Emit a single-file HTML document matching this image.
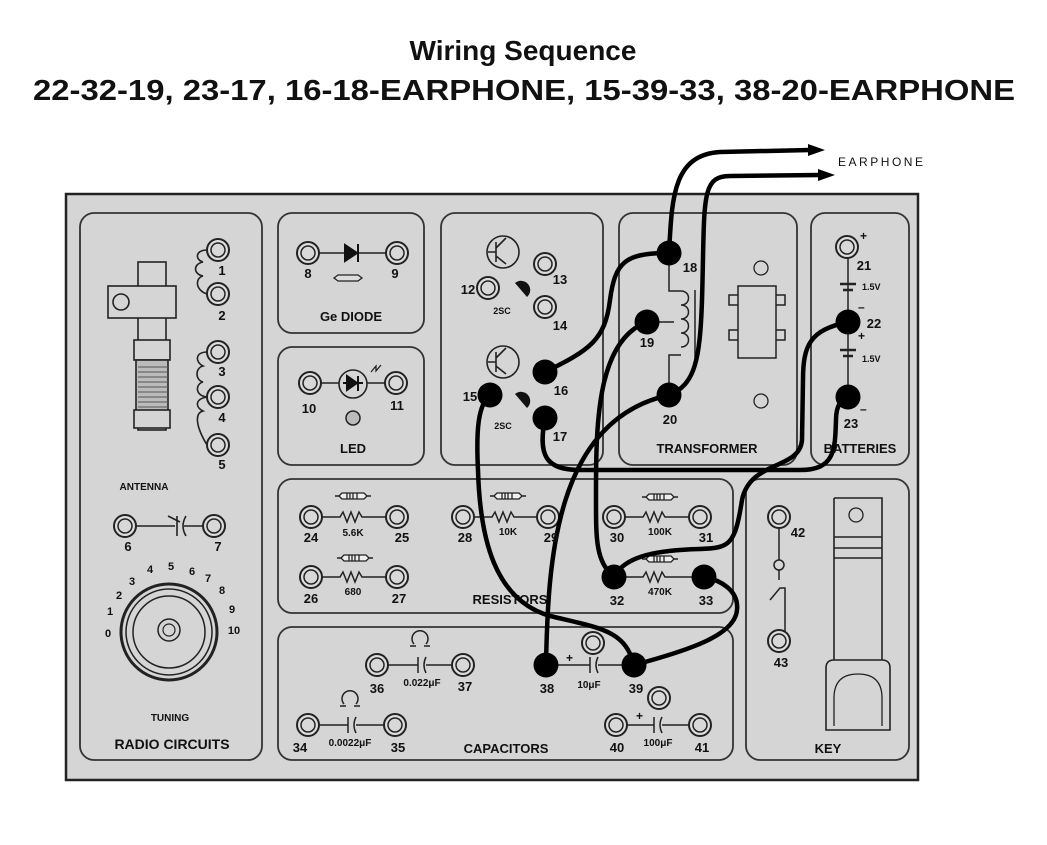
<!DOCTYPE html>
<html><head><meta charset="utf-8"><style>
html,body{margin:0;padding:0;background:#fff;}
svg{display:block;}
text{font-family:"Liberation Sans",sans-serif;font-weight:bold;fill:#111;}
</style></head><body>
<svg width="1047" height="845" viewBox="0 0 1047 845" xmlns="http://www.w3.org/2000/svg">
<defs>
<g id="t"><circle r="11" fill="#ddd" stroke="#222" stroke-width="2"/><circle r="7" fill="#d8d8d8" stroke="#222" stroke-width="1.5"/></g>
<g id="f"><circle r="12.5" fill="#000"/></g>
<g id="res"><path d="M-14,0 l3,-3 h22 l3,3 l-3,3 h-22 z" fill="#eee" stroke="#222" stroke-width="1.3"/><path d="M-6,-3 v6 M-3,-3 v6 M0,-3 v6 M4,-3 v6" stroke="#222" stroke-width="1.3"/><path d="M-18,0 h4 M14,0 h4" stroke="#222" stroke-width="1.5"/></g>
</defs>
<text x="523" y="60" font-size="28" text-anchor="middle">Wiring Sequence</text>
<text x="524" y="100" font-size="29" text-anchor="middle" textLength="982" lengthAdjust="spacingAndGlyphs">22-32-19, 23-17, 16-18-EARPHONE, 15-39-33, 38-20-EARPHONE</text>
<text x="838" y="166" font-size="12" font-weight="normal" style="font-weight:normal" textLength="85">EARPHONE</text>

<rect x="66" y="194" width="852" height="586" fill="#d5d5d5" stroke="#222" stroke-width="2.5"/>
<g fill="none" stroke="#333" stroke-width="1.8">
<rect x="80" y="213" width="182" height="547" rx="14"/>
<rect x="278" y="213" width="146" height="120" rx="14"/>
<rect x="278" y="347" width="146" height="118" rx="14"/>
<rect x="441" y="213" width="162" height="252" rx="14"/>
<rect x="619" y="213" width="178" height="252" rx="14"/>
<rect x="811" y="213" width="98" height="252" rx="14"/>
<rect x="278" y="479" width="455" height="134" rx="14"/>
<rect x="278" y="627" width="455" height="133" rx="14"/>
<rect x="746" y="479" width="163" height="281" rx="14"/>
</g>
<!-- antenna -->
<g fill="#d5d5d5" stroke="#222" stroke-width="1.6">
<rect x="138" y="262" width="28" height="168"/>
<rect x="108" y="286" width="68" height="32"/>
<rect x="134" y="340" width="36" height="20"/>
<rect x="136" y="360" width="32" height="64" fill="#bbb"/>
<rect x="134" y="410" width="36" height="18"/>
<circle cx="121" cy="302" r="8"/>
</g>
<path d="M138,367h30M138,372h30M138,377h30M138,382h30M138,387h30M138,392h30M138,397h30M138,402h30M138,407h30" stroke="#555" stroke-width="1"/>
<path d="M207,250 c-12,0 -12,10 -4,12 c-10,2 -10,12 0,14 c-8,2 -8,14 4,18 M207,352 c-12,0 -12,10 -4,14 c-8,2 -8,14 0,16 c-8,2 -8,14 4,15 c-12,2 -12,10 -4,14 c-8,2 -8,14 4,34" fill="none" stroke="#222" stroke-width="1.6"/>
<text x="144" y="490" font-size="10" text-anchor="middle">ANTENNA</text>
<path d="M135,526h40M184,526h20M177,516v20M186,516q-6,10 0,20M168,516l12,6" stroke="#222" stroke-width="1.6" fill="none"/>
<circle cx="169" cy="632" r="48" fill="none" stroke="#222" stroke-width="3"/>
<circle cx="169" cy="632" r="43" fill="none" stroke="#222" stroke-width="1.5"/>
<circle cx="169" cy="632" r="36" fill="none" stroke="#222" stroke-width="1.5"/>
<circle cx="169" cy="630" r="11" fill="none" stroke="#222" stroke-width="1.5"/>
<circle cx="169" cy="630" r="6" fill="none" stroke="#222" stroke-width="1.2"/>
<g font-size="11" font-weight="normal" style="font-weight:normal" text-anchor="middle">
<text x="108" y="637">0</text><text x="110" y="615">1</text><text x="119" y="599">2</text><text x="132" y="585">3</text><text x="150" y="573">4</text><text x="171" y="570">5</text><text x="192" y="575">6</text><text x="208" y="582">7</text><text x="222" y="594">8</text><text x="232" y="613">9</text><text x="234" y="634">10</text>
</g>
<text x="170" y="721" font-size="10" text-anchor="middle">TUNING</text>
<text x="172" y="749" font-size="14" text-anchor="middle">RADIO CIRCUITS</text>

<!-- diode -->
<path d="M318,253h70" stroke="#222" stroke-width="1.6"/>
<path d="M345,245 l12,8 l-12,8z M358,244v18" stroke="#111" fill="#111" stroke-width="2"/>
<path d="M334,278 l4,-3 h20 l4,3 l-4,3 h-20z" fill="#ddd" stroke="#222" stroke-width="1.3"/>
<text x="351" y="321" font-size="13" text-anchor="middle">Ge DIODE</text>
<!-- led -->
<path d="M320,383h66" stroke="#222" stroke-width="1.6"/>
<circle cx="353" cy="384" r="14" fill="#d5d5d5" stroke="#222" stroke-width="1.6"/>
<path d="M343,383h20 M347,376 l10,7 l-10,7z M358,376v15" stroke="#111" fill="#111" stroke-width="2"/>
<path d="M371,372 l5,-6 l0,5 l5,-6" stroke="#222" fill="none" stroke-width="1.3"/>
<circle cx="353" cy="418" r="7" fill="#bbb" stroke="#222" stroke-width="1.5"/>
<text x="353" y="453" font-size="13" text-anchor="middle">LED</text>
<!-- transistors -->
<g fill="none" stroke="#222" stroke-width="1.6">
<circle cx="503" cy="252" r="16"/><path d="M496,242v20M488,252h8M496,248l10,-10M496,256l10,8"/>
<circle cx="503" cy="362" r="16"/><path d="M496,352v20M488,362h8M496,358l10,-10M496,366l10,8"/>
</g>
<path d="M515,283 a9,9 0 0 1 12,14z M515,394 a9,9 0 0 1 12,14z" fill="#111"/>
<g font-size="9" text-anchor="middle"><text x="502" y="314">2SC</text><text x="503" y="429">2SC</text></g>
<!-- transformer -->
<path d="M669,263v28h12 M652,322h22 M669,385v-30h12" stroke="#222" fill="none" stroke-width="1.5"/>
<path d="M681,291 c10,0 10,14 0,14 c10,0 10,14 0,14 c10,0 10,14 0,14 c10,0 10,14 0,14 M695,290v68" stroke="#222" fill="none" stroke-width="1.5"/>
<rect x="738" y="286" width="38" height="72" fill="none" stroke="#222" stroke-width="1.5"/>
<path d="M738,295h-9v10h9M738,330h-9v10h9M776,295h9v10h-9M776,330h9v10h-9" stroke="#222" fill="none" stroke-width="1.5"/>
<circle cx="761" cy="268" r="7" fill="none" stroke="#222" stroke-width="1.3"/>
<circle cx="761" cy="401" r="7" fill="none" stroke="#222" stroke-width="1.3"/>
<text x="707" y="453" font-size="13" text-anchor="middle">TRANSFORMER</text>
<!-- batteries -->
<path d="M848,258v80 M848,336v60" stroke="#222" stroke-width="1.5"/>
<path d="M840,284h16M843,290h10M840,350h16M843,356h10" stroke="#222" stroke-width="2.5"/>
<g font-size="9" text-anchor="start"><text x="862" y="290">1.5V</text><text x="862" y="362">1.5V</text></g>
<g font-size="12" style="font-weight:normal"><text x="860" y="240">+</text><text x="858" y="311">–</text><text x="858" y="340">+</text><text x="860" y="413">–</text></g>
<text x="860" y="453" font-size="13" text-anchor="middle">BATTERIES</text>
<!-- resistors -->
<g stroke="#222" stroke-width="1.5" fill="none">
<path d="M322,517h18l3,-5 4,10 4,-10 4,10 4,-10 3,5h24"/>
<path d="M322,577h18l3,-5 4,10 4,-10 4,10 4,-10 3,5h24"/>
<path d="M474,517h18l3,-5 4,10 4,-10 4,10 4,-10 3,5h24"/>
<path d="M625,517h18l3,-5 4,10 4,-10 4,10 4,-10 3,5h26"/>
<path d="M625,577h18l3,-5 4,10 4,-10 4,10 4,-10 3,5h30"/>
</g>
<use href="#res" x="353" y="496"/><use href="#res" x="355" y="558"/><use href="#res" x="508" y="496"/><use href="#res" x="660" y="497"/><use href="#res" x="660" y="559"/>
<g font-size="10" style="font-weight:normal" text-anchor="middle"><text x="353" y="536">5.6K</text><text x="353" y="595">680</text><text x="508" y="535">10K</text><text x="660" y="535">100K</text><text x="660" y="595">470K</text></g>
<text x="510" y="604" font-size="13" text-anchor="middle">RESISTORS</text>
<!-- capacitors -->
<g stroke="#222" stroke-width="1.5" fill="none">
<path d="M388,665h30M426,665h26M418,657v16M426,657q-4,8 0,16"/>
<path d="M318,725h30M356,725h28M348,717v16M356,717q-4,8 0,16"/>
<path d="M556,665h34M598,665h26M590,657v16M598,657q-4,8 0,16"/>
<path d="M626,725h28M662,725h28M654,717v16M662,717q-4,8 0,16"/>
<path d="M414,644a8,8 0 1 1 12,0M410,646h6M424,646h6"/>
<path d="M344,704a8,8 0 1 1 12,0M340,706h6M354,706h6"/>
</g>
<use href="#t" x="593" y="643"/><use href="#t" x="659" y="698"/>
<g font-size="10" style="font-weight:normal" text-anchor="middle"><text x="422" y="686">0.022μF</text><text x="350" y="746">0.0022μF</text><text x="589" y="688">10μF</text><text x="658" y="746">100μF</text></g>
<g font-size="12" style="font-weight:normal"><text x="566" y="662">+</text><text x="636" y="720">+</text></g>
<text x="506" y="753" font-size="13" text-anchor="middle">CAPACITORS</text>
<!-- key -->
<path d="M779,528v32 M779,570v10 M770,600l10,-12h5v20 v30" stroke="#222" fill="none" stroke-width="1.5"/>
<circle cx="779" cy="565" r="5" fill="none" stroke="#222" stroke-width="1.5"/>
<path d="M834,498h48v162 M834,498v162 M834,537h48M834,548h48M834,558h48" stroke="#222" fill="none" stroke-width="1.6"/>
<circle cx="856" cy="515" r="7" fill="none" stroke="#222" stroke-width="1.3"/>
<path d="M826,668q0,-8 8,-8h48q8,0 8,8v62h-64z" fill="#d5d5d5" stroke="#222" stroke-width="1.6"/>
<path d="M834,726v-28q0,-24 24,-24q24,0 24,24v28" fill="none" stroke="#222" stroke-width="1.3"/>
<text x="828" y="753" font-size="13" text-anchor="middle">KEY</text>

<!-- open terminals -->
<use href="#t" x="218" y="250"/><use href="#t" x="218" y="294"/><use href="#t" x="218" y="352"/><use href="#t" x="218" y="397"/><use href="#t" x="218" y="445"/>
<use href="#t" x="308" y="253"/><use href="#t" x="397" y="253"/><use href="#t" x="310" y="383"/><use href="#t" x="396" y="383"/>
<use href="#t" x="488" y="288"/><use href="#t" x="545" y="264"/><use href="#t" x="545" y="307"/><use href="#t" x="847" y="247"/>
<use href="#t" x="311" y="517"/><use href="#t" x="397" y="517"/><use href="#t" x="311" y="577"/><use href="#t" x="397" y="577"/>
<use href="#t" x="463" y="517"/><use href="#t" x="548" y="517"/><use href="#t" x="614" y="517"/><use href="#t" x="700" y="517"/>
<use href="#t" x="125" y="526"/><use href="#t" x="214" y="526"/>
<use href="#t" x="377" y="665"/><use href="#t" x="463" y="665"/><use href="#t" x="308" y="725"/><use href="#t" x="395" y="725"/>
<use href="#t" x="616" y="725"/><use href="#t" x="700" y="725"/><use href="#t" x="779" y="517"/><use href="#t" x="779" y="641"/>

<!-- wires -->
<g fill="none" stroke="#000" stroke-width="4.5" stroke-linecap="round">
<path d="M545,372 C590,350 605,340 610,300 C615,262 625,253 669,253"/>
<path d="M669,253 C672,200 672,155 720,152 L810,150"/>
<path d="M669,395 C695,385 700,360 702,300 C705,200 700,176 730,176 L820,175"/>
<path d="M546,665 C548,560 555,420 669,395"/>
<path d="M848,322 C810,330 803,345 803,380 L802,440 C800,470 750,460 742,500 C735,545 730,548 700,549 C660,550 625,555 614,577"/>
<path d="M614,577 C595,560 596,540 596,490 C596,420 598,340 647,322"/>
<path d="M545,418 C538,455 545,470 580,470 L800,470 C835,470 835,450 836,420 C836,405 842,398 848,397"/>
<path d="M490,395 C478,405 476,430 478,470 C480,540 495,600 550,616 C600,628 625,630 634,665"/>
<path d="M634,665 C690,650 735,635 737,610 C739,590 720,580 704,577"/>
</g>
<path d="M808,144 l17,6 l-17,6z M818,169 l17,6 l-17,6z" fill="#000"/>

<!-- filled terminals -->
<use href="#f" x="490" y="395"/><use href="#f" x="545" y="372"/><use href="#f" x="545" y="418"/>
<use href="#f" x="669" y="253"/><use href="#f" x="647" y="322"/><use href="#f" x="669" y="395"/>
<use href="#f" x="848" y="322"/><use href="#f" x="848" y="397"/><use href="#f" x="614" y="577"/><use href="#f" x="704" y="577"/>
<use href="#f" x="546" y="665"/><use href="#f" x="634" y="665"/>

<!-- numbers -->
<g font-size="13" text-anchor="middle">
<text x="222" y="275">1</text><text x="222" y="320">2</text><text x="222" y="376">3</text><text x="222" y="422">4</text><text x="222" y="469">5</text>
<text x="308" y="278">8</text><text x="395" y="278">9</text><text x="309" y="413">10</text><text x="397" y="410">11</text>
<text x="468" y="294">12</text><text x="560" y="284">13</text><text x="560" y="330">14</text>
<text x="470" y="401">15</text><text x="561" y="395">16</text><text x="560" y="441">17</text>
<text x="690" y="272">18</text><text x="647" y="347">19</text><text x="670" y="424">20</text>
<text x="864" y="270">21</text><text x="874" y="328">22</text><text x="851" y="428">23</text>
<text x="128" y="551">6</text><text x="218" y="551">7</text>
<text x="311" y="542">24</text><text x="402" y="542">25</text><text x="311" y="603">26</text><text x="399" y="603">27</text>
<text x="465" y="542">28</text><text x="551" y="542">29</text><text x="617" y="542">30</text><text x="706" y="542">31</text>
<text x="617" y="605">32</text><text x="706" y="605">33</text>
<text x="300" y="752">34</text><text x="398" y="752">35</text><text x="377" y="693">36</text><text x="465" y="691">37</text>
<text x="547" y="693">38</text><text x="636" y="693">39</text><text x="617" y="752">40</text><text x="702" y="752">41</text>
<text x="798" y="537">42</text><text x="781" y="667">43</text>
</g>
</svg>
</body></html>
